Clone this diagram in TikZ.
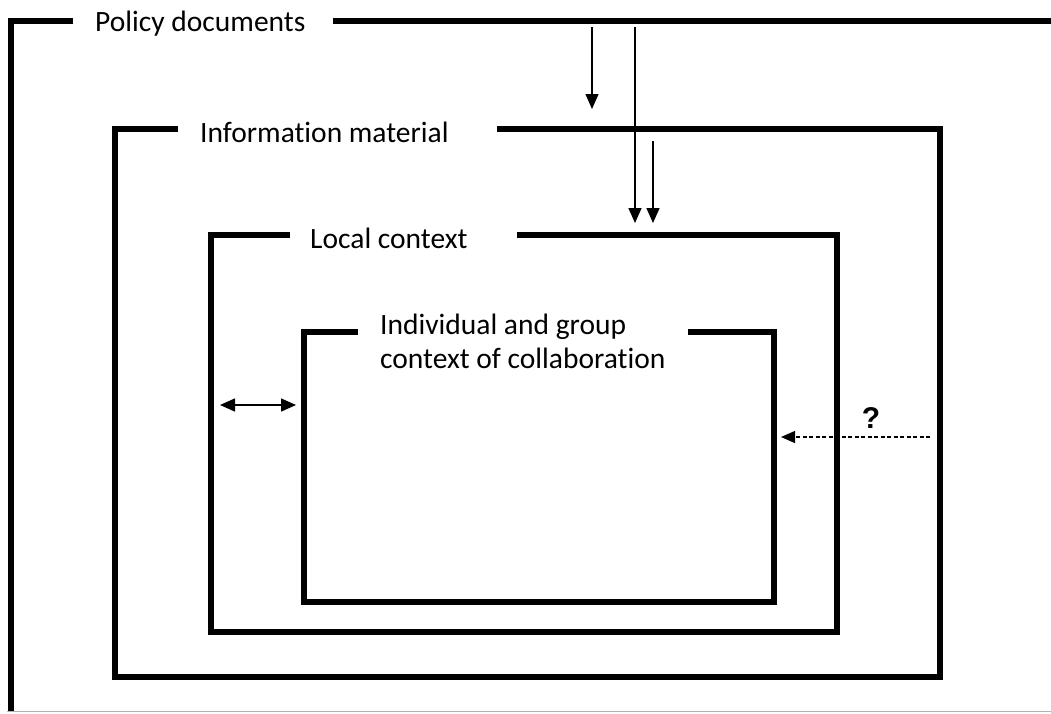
\documentclass[tikz,border=0pt]{standalone}
\usepackage{fontspec}
\setmainfont{Carlito}[Ligatures=NoCommon]
\newfontfamily\qfont{Liberation Sans}
\usetikzlibrary{arrows.meta}
\begin{document}
\begin{tikzpicture}[x=1pt,y=-1pt,
  frame/.style={line width=5.5pt,line join=miter,line cap=butt},
  label/.style={anchor=base west,inner sep=0pt,font=\fontsize{29.5}{34}\selectfont},
  flow/.style={line width=1.5pt,-{Triangle[length=15pt,width=13pt]}},
  both/.style={line width=1.5pt,{Triangle[length=15pt,width=13pt]}-{Triangle[length=15pt,width=13pt]}},
  query/.style={line width=1.2pt,dash pattern=on 4pt off 2.5pt,-{Triangle[length=14pt,width=12pt]}}]
\useasboundingbox (0,0) rectangle (1051,713);

% outer frame: policy documents
\draw[frame] (73,21) -- (11,21) -- (11,711);
\draw[frame] (333,21) -- (1051,21);
\draw[line width=1pt,gray!60] (7,711.5) -- (1051,711.5);
\node[label] (policy) at (95,31) {Policy documents};

% information material
\draw[frame] (178,129) -- (115,129) -- (115,677) -- (940,677) -- (940,129) -- (497,129);
\node[label] (info) at (200,142) {Information material};

% local context
\draw[frame] (290,235) -- (211,235) -- (211,632) -- (837,632) -- (837,235) -- (517,235);
\node[label] (local) at (310,248) {Local context};

% individual and group context
\draw[frame] (358,332) -- (304,332) -- (304,602) -- (774,602) -- (774,332) -- (688,332);
\node[label,align=left,anchor=north west] (indiv) at (380,314)
  {Individual and group\\context of collaboration};

% arrow end points
\coordinate (a1s) at (592,27);
\coordinate (a1e) at (592,109);
\coordinate (a2s) at (635,27);
\coordinate (a2e) at (635,223);
\coordinate (a3s) at (653,141);
\coordinate (a3e) at (653,223);
\coordinate (bl) at (220,405);
\coordinate (br) at (296,405);
\coordinate (qs) at (930,437);
\coordinate (qe) at (781,437);

\draw[flow] (a1s) -- (a1e);
\draw[flow] (a2s) -- (a2e);
\draw[flow] (a3s) -- (a3e);
\draw[both] (bl) -- (br);
\draw[query] (qs) -- (qe);
\node[anchor=base,inner sep=0pt,font=\qfont\bfseries\fontsize{30}{34}\selectfont] (q) at (871,428) {?};
\end{tikzpicture}
\end{document}
